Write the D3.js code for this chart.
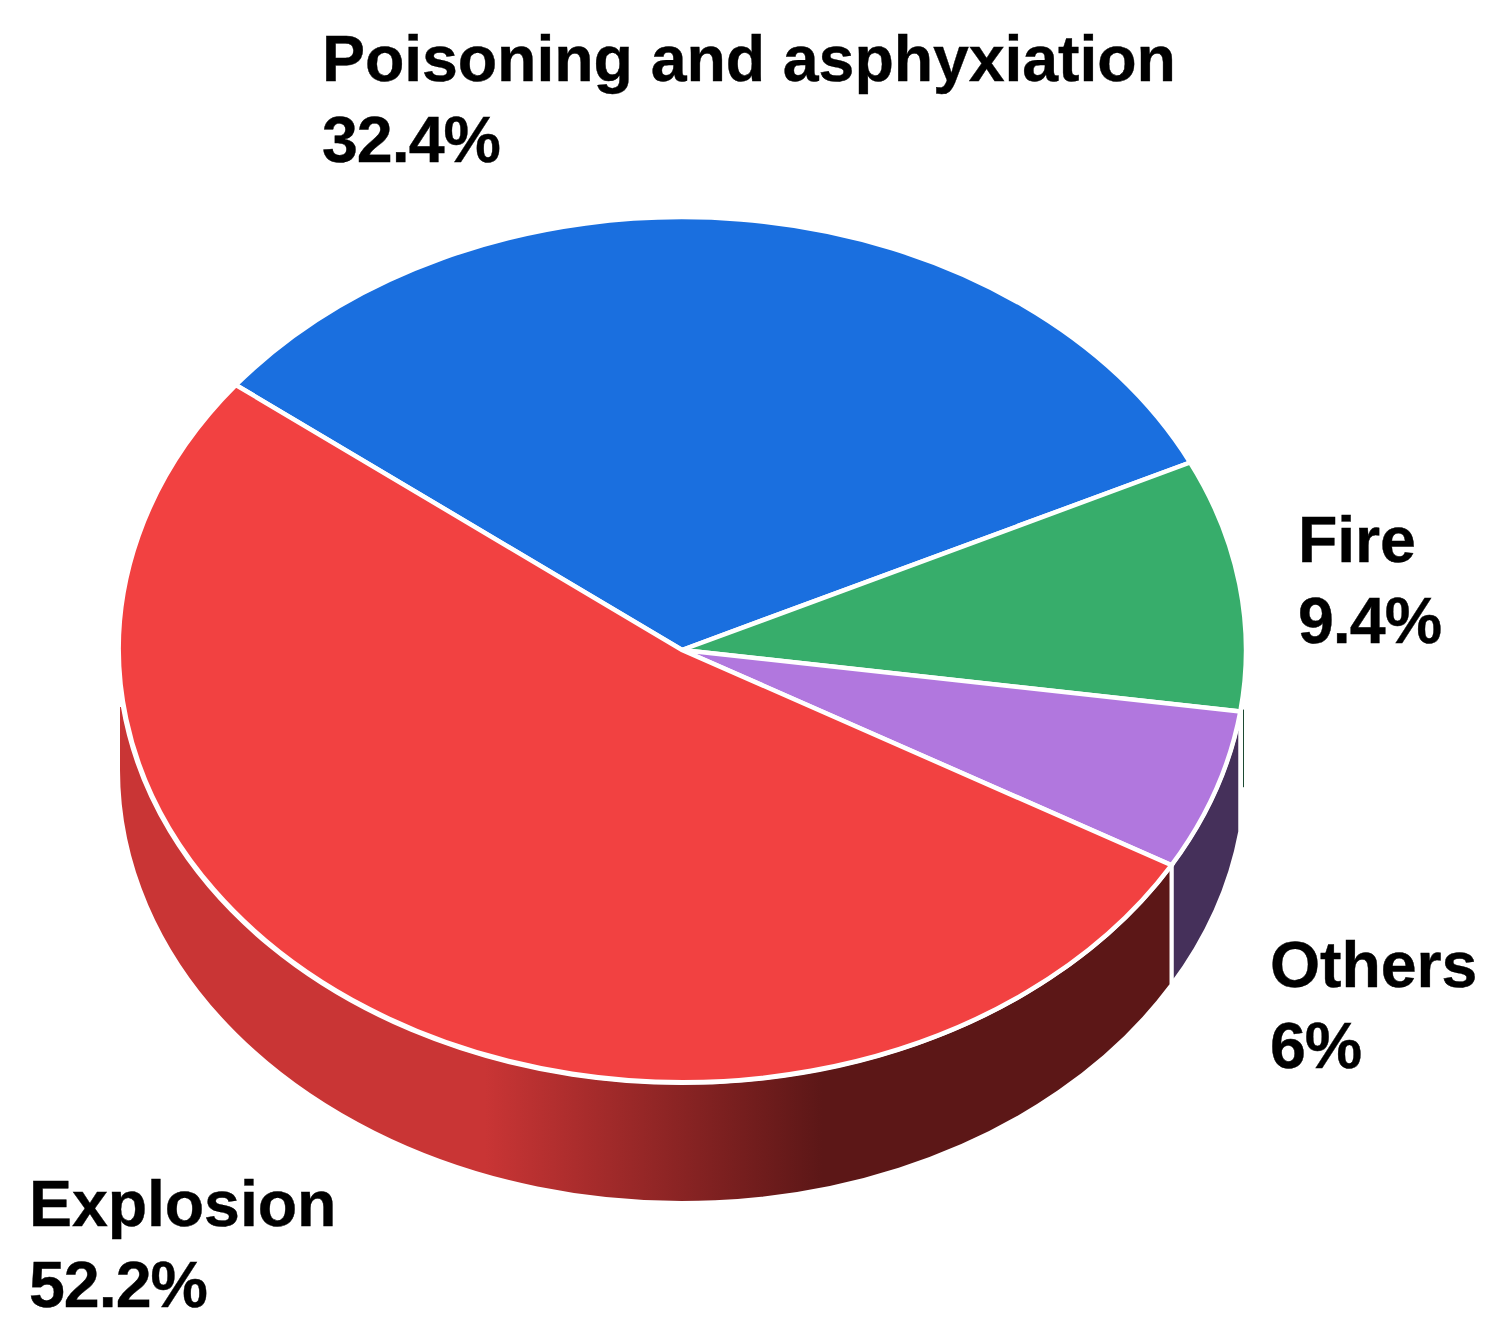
<!DOCTYPE html>
<html lang="en">

<head>
    <meta charset="UTF-8">
    <title>Accident types</title>
    <script src="https://d3js.org/d3.v7.min.js"></script>
    <style>
        body { margin: 0; background: #fff; }
        text { font-family: "Liberation Sans", Arial, sans-serif; font-weight: 700; fill: #000; stroke: #000; stroke-width: 0.4px; }
    </style>
</head>

<body>
    <svg id="chart" width="1498" height="1336"></svg>

    <script>
        const categories = ["Poisoning and asphyxiation", "Fire", "Others", "Explosion"];
        const percents = [32.4, 9.4, 6, 52.2];
        const valueLabels = ["32.4%", "9.4%", "6%", "52.2%"];
        const topColors = ["#1A6FDF", "#37AD6B", "#B177DE", "#F24141"];

        const labelPos = [[322, 81], [1298, 562], [1270, 987], [29, 1226]];
        const lineGap = 81;
        const fontSize = 64.5;

        const cx = 682, cy = 650, rx = 564, ry = 433, depth = 120;
        const startAngle = -52.3 * Math.PI / 180;
        const wallTopY = 705; // the red wall stops here on the left

        const svg = d3.select("#chart");

        const defs = svg.append("defs");
        const grad = defs.append("linearGradient")
            .attr("id", "redWall")
            .attr("gradientUnits", "userSpaceOnUse")
            .attr("x1", 485).attr("x2", 822)
            .attr("y1", 0).attr("y2", 0);
        grad.append("stop").attr("offset", 0).attr("stop-color", "#C93535");
        grad.append("stop").attr("offset", 1).attr("stop-color", "#5C1717");

        const pie = d3.pie().sort(null).startAngle(startAngle).endAngle(startAngle + 2 * Math.PI);
        const slices = pie(percents);

        const px = a => cx + rx * Math.sin(a);
        const py = (a, dy = 0) => cy - ry * Math.cos(a) + dy;

        // walls, drawn under the top face
        const others = slices[2];
        const explosion = slices[3];
        const fire = slices[1];

        svg.append("path")
            .attr("d", `M${px(others.startAngle)},${py(others.startAngle)}
                L${px(others.startAngle)},${py(others.startAngle, depth)}
                A${rx},${ry} 0 0 1 ${px(others.endAngle)},${py(others.endAngle, depth)}
                L${px(others.endAngle)},${py(others.endAngle)}
                A${rx},${ry} 0 0 0 ${px(others.startAngle)},${py(others.startAngle)}Z`)
            .attr("fill", "#45305A")
            .attr("stroke", "#fff")
            .attr("stroke-width", 4);

        const left = 1.5 * Math.PI;
        const clipA = 2 * Math.PI - Math.acos((cy - wallTopY) / ry);
        svg.append("path")
            .attr("d", `M${px(explosion.startAngle)},${py(explosion.startAngle)}
                L${px(explosion.startAngle)},${py(explosion.startAngle, depth)}
                A${rx},${ry} 0 0 1 ${px(left)},${py(left, depth)}
                L${px(left)},${wallTopY}
                L${px(clipA)},${wallTopY}
                A${rx},${ry} 0 0 0 ${px(explosion.startAngle)},${py(explosion.startAngle)}Z`)
            .attr("fill", "url(#redWall)")
            .attr("stroke", "#fff")
            .attr("stroke-width", 4);

        // what is left of the green wall is a hairline
        svg.append("line")
            .attr("x1", cx + rx - 2.5).attr("x2", cx + rx - 2.5)
            .attr("y1", py(fire.endAngle) - 2)
            .attr("y2", py(fire.endAngle, depth * 0.63))
            .attr("stroke", "#1D4A33")
            .attr("stroke-width", 1);

        // top face: unit arc scaled to the ellipse
        const arc = d3.arc().innerRadius(0).outerRadius(1);
        svg.append("g")
            .attr("transform", `translate(${cx},${cy}) scale(${rx},${ry})`)
            .selectAll("path")
            .data(slices)
            .join("path")
            .attr("d", arc)
            .attr("fill", (d, i) => topColors[i])
            .attr("stroke", "#fff")
            .attr("stroke-width", 4.5)
            .attr("vector-effect", "non-scaling-stroke");

        const labels = svg.append("g")
            .selectAll("text")
            .data(categories)
            .join("text")
            .attr("font-size", fontSize);

        labels.append("tspan")
            .attr("x", (d, i) => labelPos[i][0])
            .attr("y", (d, i) => labelPos[i][1])
            .attr("letter-spacing", -0.1)
            .text(d => d);

        labels.append("tspan")
            .attr("x", (d, i) => labelPos[i][0])
            .attr("y", (d, i) => labelPos[i][1] + lineGap)
            .attr("letter-spacing", -1)
            .text((d, i) => valueLabels[i]);
    </script>

</body>

</html>
